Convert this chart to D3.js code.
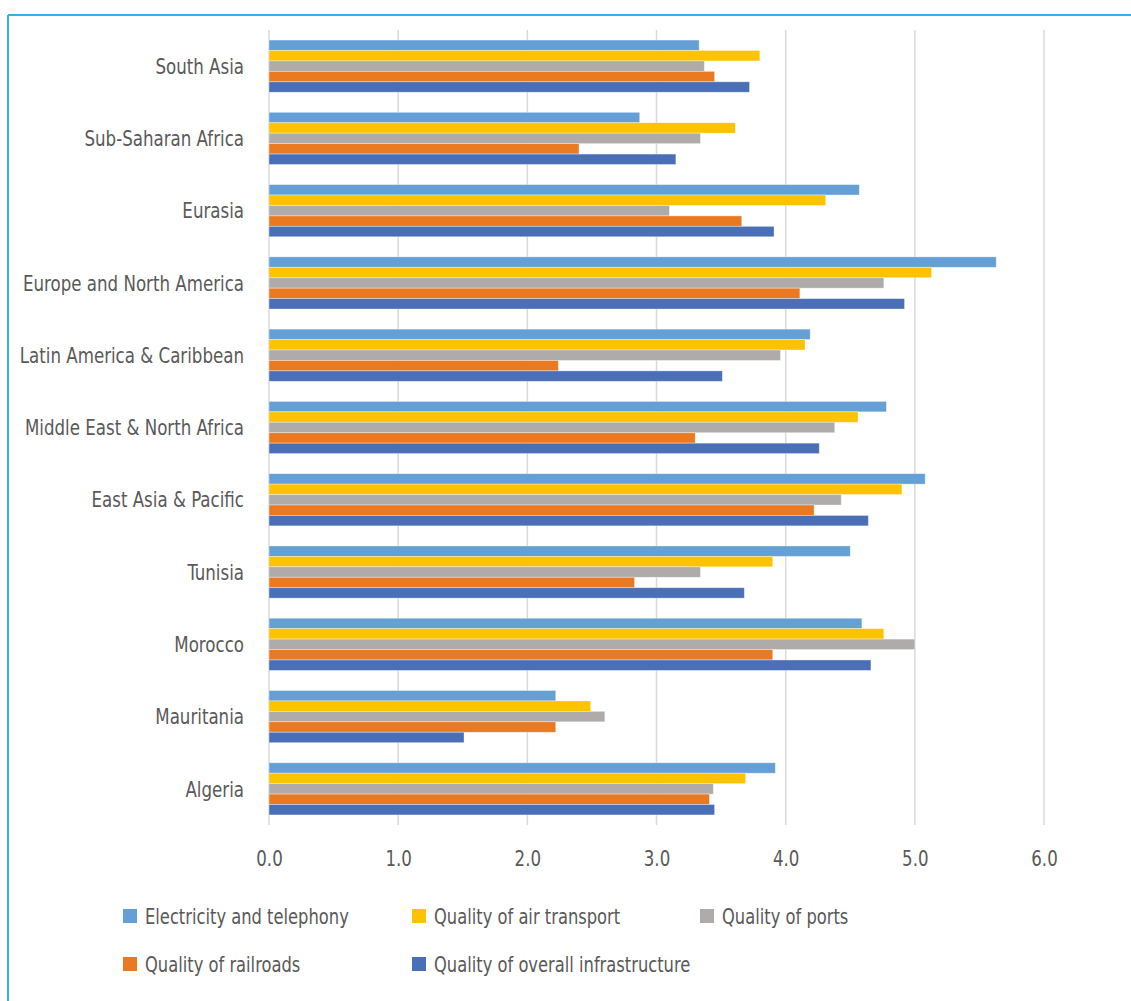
<!DOCTYPE html>
<html>
<head>
<meta charset="utf-8">
<script src="https://cdn.jsdelivr.net/npm/d3@7"></script>
<style>
  html, body { margin: 0; padding: 0; background: #fff; }
  svg { display: block; }
  text { font-family: "Liberation Sans Narrow", "DejaVu Sans Condensed", "Arial Narrow", sans-serif; fill: #595959; }
</style>
</head>
<body>
<svg id="chart" width="1131" height="1001"></svg>
<script>
const categories = ["South Asia", "Sub-Saharan Africa", "Eurasia", "Europe and North America",
  "Latin America & Caribbean", "Middle East & North Africa", "East Asia & Pacific",
  "Tunisia", "Morocco", "Mauritania", "Algeria"];
const seriesNames = ["Electricity and telephony", "Quality of air transport", "Quality of ports",
  "Quality of railroads", "Quality of overall infrastructure"];
const seriesColors = ["#649FD6", "#FDC300", "#AEABAA", "#EA7A22", "#4A6FB6"];
const electricity = [3.33, 2.87, 4.57, 5.63, 4.19, 4.78, 5.08, 4.50, 4.59, 2.22, 3.92];
const airTransport = [3.80, 3.61, 4.31, 5.13, 4.15, 4.56, 4.90, 3.90, 4.76, 2.49, 3.69];
const ports = [3.37, 3.34, 3.10, 4.76, 3.96, 4.38, 4.43, 3.34, 5.00, 2.60, 3.44];
const railroads = [3.45, 2.40, 3.66, 4.11, 2.24, 3.30, 4.22, 2.83, 3.90, 2.22, 3.41];
const overall = [3.72, 3.15, 3.91, 4.92, 3.51, 4.26, 4.64, 3.68, 4.66, 1.51, 3.45];
const tickValues = [0, 1, 2, 3, 4, 5, 6];

const seriesValues = [electricity, airTransport, ports, railroads, overall];

const svg = d3.select("#chart");

function measure(str, size) {
  const t = svg.append("text").attr("font-size", size).text(str);
  const w = t.node().getComputedTextLength();
  t.remove();
  return w;
}
// horizontal compression to emulate the condensed typeface of the original
const catSize = 22, legSize = 21, tickSize = 22;
const catSx = Math.min(1, 221 / measure("Europe and North America", catSize));
const legSx = Math.min(1, 204 / measure("Electricity and telephony", legSize));
const tickSx = catSx;

// frame (left + top edges visible)
svg.append("line").attr("x1", 8).attr("x2", 8).attr("y1", 15).attr("y2", 1001)
  .attr("stroke", "#2EB4E8").attr("stroke-width", 2);
svg.append("line").attr("x1", 8).attr("x2", 1131).attr("y1", 15).attr("y2", 15)
  .attr("stroke", "#2EB4E8").attr("stroke-width", 2);

const plot = { left: 269, right: 1044, top: 30, bottom: 825 };

const x = d3.scaleLinear().domain([0, 6]).range([plot.left, plot.right]);
const y = d3.scaleBand().domain(categories).range([plot.top, plot.bottom]).padding(0);
const gap = y.bandwidth() * 0.139;
const ySub = d3.scaleBand().domain(seriesNames).range([gap, y.bandwidth() - gap]).padding(0);

// gridlines
svg.append("g").selectAll("line").data(tickValues).join("line")
  .attr("x1", d => x(d)).attr("x2", d => x(d))
  .attr("y1", plot.top).attr("y2", plot.bottom)
  .attr("stroke", "#D9D9D9").attr("stroke-width", 1.5);

// bars
const groups = svg.append("g").selectAll("g").data(categories).join("g")
  .attr("transform", d => `translate(0,${y(d)})`);
groups.selectAll("rect")
  .data((c, i) => seriesNames.map((s, j) => ({ s, j, v: seriesValues[j][i] })))
  .join("rect")
  .attr("x", x(0))
  .attr("y", d => ySub(d.s))
  .attr("width", d => x(d.v) - x(0))
  .attr("height", ySub.bandwidth())
  .attr("fill", d => seriesColors[d.j])
  .attr("stroke", "rgba(255,255,255,0.45)")
  .attr("stroke-width", 0.8);

// category labels
svg.append("g").selectAll("g").data(categories).join("g")
  .attr("transform", d => `translate(244,${y(d) + y.bandwidth() / 2}) scale(${catSx},1)`)
  .append("text")
  .attr("dy", "0.35em")
  .attr("text-anchor", "end")
  .attr("font-size", catSize)
  .text(d => d);

// x-axis tick labels
const xAxis = d3.axisBottom(x).tickValues(tickValues).tickFormat(d3.format(".1f")).tickSize(0).tickPadding(0);
const ax = svg.append("g").attr("transform", `translate(0,866)`).call(xAxis);
ax.select(".domain").remove();
ax.selectAll("text").attr("font-size", tickSize).attr("fill", "#595959").attr("dy", 0)
  .attr("font-family", "\"Liberation Sans Narrow\", \"DejaVu Sans Condensed\", sans-serif")
  .attr("transform", `scale(${tickSx},1)`);

// legend
const legendPos = [[123, 909], [412, 909], [700, 909], [123, 957], [412, 957]];
const legend = svg.append("g").selectAll("g").data(seriesNames).join("g")
  .attr("transform", (d, i) => `translate(${legendPos[i][0]},${legendPos[i][1]})`);
legend.append("rect").attr("width", 14).attr("height", 14)
  .attr("fill", (d, i) => seriesColors[i]);
legend.append("g").attr("transform", `translate(22,14.5) scale(${legSx},1)`)
  .append("text")
  .attr("font-size", legSize)
  .text(d => d);
</script>
</body>
</html>
